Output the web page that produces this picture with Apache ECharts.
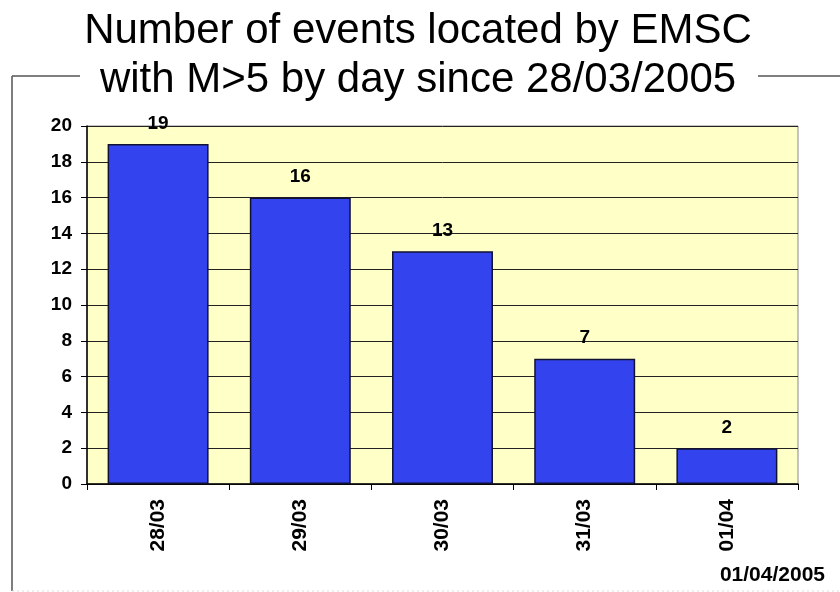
<!DOCTYPE html>
<html>
<head>
<meta charset="utf-8">
<script src="https://cdn.jsdelivr.net/npm/echarts@6/dist/echarts.min.js"></script>
<style>
html,body{margin:0;padding:0;background:#fff;}
#chart{width:840px;height:592px;}
</style>
</head>
<body>
<div id="chart"></div>
<script>
// data
var days = ["28/03", "29/03", "30/03", "31/03", "01/04"];
var events = [19, 16, 13, 7, 2];
var titleText = "Number of events located by EMSC\nwith M>5 by day since 28/03/2005";
var stampText = "01/04/2005";

var chart = echarts.init(document.getElementById('chart'));
var font = "Arial, 'Liberation Sans', sans-serif";

var option = {
    backgroundColor: '#fff',
    animation: false,
    title: {
        text: titleText,
        left: 413,
        top: 2,
        textAlign: 'center',
        textStyle: {
            fontFamily: font,
            fontSize: 42,
            fontWeight: 'normal',
            lineHeight: 49,
            color: '#000'
        }
    },
    grid: {
        left: 87,
        right: 42,
        top: 126,
        bottom: 108,
        show: true,
        backgroundColor: '#FFFFC8',
        borderColor: '#888',
        borderWidth: 1
    },
    xAxis: {
        type: 'category',
        data: days,
        axisLine: {lineStyle: {color: '#000', width: 1.5}},
        axisTick: {show: true, length: 6, lineStyle: {color: '#000'}},
        axisLabel: {
            rotate: 90,
            margin: 15,
            fontFamily: font,
            fontSize: 21,
            fontWeight: 'bold',
            color: '#000'
        }
    },
    yAxis: {
        type: 'value',
        min: 0,
        max: 20,
        interval: 2,
        axisLine: {show: true, lineStyle: {color: '#000', width: 1.5}},
        axisTick: {show: true, length: 6, lineStyle: {color: '#000'}},
        axisLabel: {
            margin: 15,
            fontFamily: font,
            fontSize: 19,
            fontWeight: 'bold',
            color: '#000'
        },
        splitLine: {show: true, lineStyle: {color: '#222', width: 1}}
    },
    series: [{
        type: 'bar',
        data: events,
        barCategoryGap: '29%',
        itemStyle: {
            color: '#3344EE',
            borderColor: '#111133',
            borderWidth: 1.5
        },
        label: {
            show: true,
            position: 'top',
            distance: 11,
            fontFamily: font,
            fontSize: 19,
            fontWeight: 'bold',
            color: '#000'
        }
    }],
    graphic: [
        // outer frame broken by the title
        {type: 'line', shape: {x1: 12, y1: 76, x2: 80, y2: 76}, style: {stroke: '#555', lineWidth: 1.5}},
        {type: 'line', shape: {x1: 758, y1: 76, x2: 840, y2: 76}, style: {stroke: '#555', lineWidth: 1.5}},
        {type: 'line', shape: {x1: 12, y1: 76, x2: 12, y2: 591}, style: {stroke: '#555', lineWidth: 1.5}},
        {type: 'line', shape: {x1: 12, y1: 591, x2: 840, y2: 591}, style: {stroke: '#ddd', lineWidth: 1, lineDash: [2, 3]}},
        {
            type: 'text',
            right: 15,
            top: 565,
            style: {
                text: stampText,
                font: "bold 21px Arial, 'Liberation Sans', sans-serif",
                fill: '#000'
            }
        }
    ]
};
chart.setOption(option);
</script>
</body>
</html>
